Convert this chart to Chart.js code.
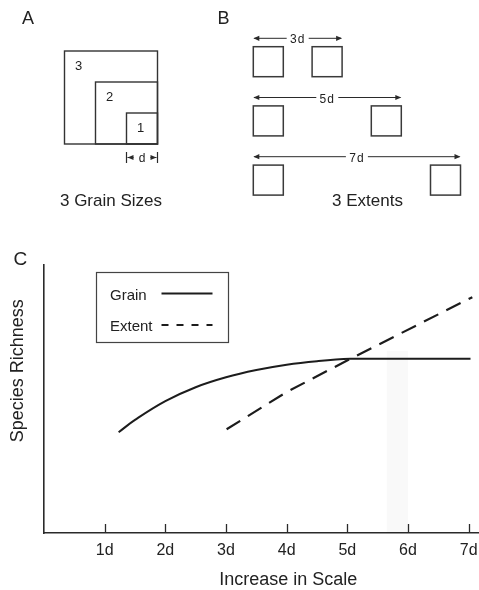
<!DOCTYPE html>
<html><head><meta charset="utf-8">
<script src="https://cdn.jsdelivr.net/npm/chart.js@4"></script>
<style>
html,body{margin:0;padding:0;background:#fff;}
#fig{position:relative;width:479px;height:590px;overflow:hidden;font-family:"Liberation Sans",Arial,sans-serif;}
#wrap{position:absolute;left:0;top:230px;width:479px;height:360px;}
#overlay{position:absolute;left:0;top:0;width:479px;height:590px;pointer-events:none;}
</style></head>
<body>
<div id="fig">
<div id="wrap"><canvas id="c" width="479" height="360"></canvas></div>
<svg id="overlay" width="479" height="590" xmlns="http://www.w3.org/2000/svg"></svg>
</div>
<script>
// ---- data (panel C) ----
const seriesNames = ['Grain', 'Extent'];
const grainX = [1.23, 1.5, 2, 2.5, 3, 3.5, 4, 4.5, 5.05, 5.5, 6, 6.5, 7.03];
const grainY = [37.6, 42.2, 49.2, 54.4, 58.1, 60.8, 62.8, 64.1, 65.0, 65.0, 65.0, 65.0, 65.0];
const extentX = [3.01, 4.0, 5.05, 7.06];
const extentY = [38.7, 52.6, 65.0, 88.0];
const xTickValues = [1, 2, 3, 4, 5, 6, 7];
const xTickLabels = ['1d', '2d', '3d', '4d', '5d', '6d', '7d'];
const xTitle = 'Increase in Scale';
const yTitle = 'Species Richness';
const bandX = [5.65, 6.0];
const bandTop = 68;
// ---- schematic panels A and B ----
const grainSizes = [1, 2, 3];
const grainLabels = ['1', '2', '3'];
const extents = [3, 5, 7];
const extentLabels = ['3d', '5d', '7d'];
const panelLabels = ['A', 'B', 'C'];
const captions = ['3 Grain Sizes', '3 Extents'];

const FONT = 'Liberation Sans, Arial, sans-serif';
const INK = '#1c1c1c';

const tickMarks = {
  id: 'tickMarks',
  beforeDatasetsDraw(chart) {
    const xs = chart.scales.x, ys = chart.scales.y, ctx = chart.ctx;
    ctx.save();
    ctx.fillStyle = 'rgba(0,0,0,0.025)';
    const x0 = xs.getPixelForValue(bandX[0]), x1 = xs.getPixelForValue(bandX[1]);
    const yt = ys.getPixelForValue(bandTop), yb = ys.getPixelForValue(0);
    ctx.fillRect(x0, yt, x1 - x0, yb - yt);
    ctx.restore();
  },
  afterDraw(chart) {
    const xs = chart.scales.x, ctx = chart.ctx;
    const b = chart.chartArea.bottom;
    ctx.save();
    ctx.strokeStyle = '#2a2a2a';
    ctx.lineWidth = 1.3;
    xs.ticks.forEach(t => {
      const px = Math.round(xs.getPixelForValue(t.value)) + 0.5;
      ctx.beginPath(); ctx.moveTo(px, b); ctx.lineTo(px, b - 9); ctx.stroke();
    });
    ctx.restore();
  }
};

const chart = new Chart(document.getElementById('c'), {
  type: 'line',
  data: {
    datasets: [
      { label: seriesNames[0], data: grainX.map((x, i) => ({ x, y: grainY[i] })),
        borderColor: INK, borderWidth: 2, pointRadius: 0, fill: false,
        tension: 0.4 },
      { label: seriesNames[1], data: extentX.map((x, i) => ({ x, y: extentY[i] })),
        borderColor: INK, borderWidth: 2.2, borderDash: [16, 9], pointRadius: 0, fill: false,
        tension: 0 }
    ]
  },
  options: {
    responsive: false, animation: false, devicePixelRatio: 1,
    layout: { padding: { top: 35, left: 0, right: 0, bottom: 0 } },
    plugins: { legend: { display: false }, tooltip: { enabled: false } },
    scales: {
      x: {
        type: 'linear', min: 0, max: 7.17,
        afterBuildTicks: s => { s.ticks = xTickValues.map(v => ({ value: v })); },
        afterFit: s => { s.height = 57; s.paddingLeft = 0; s.paddingRight = 0; },
        grid: { display: false, drawTicks: false },
        border: { display: true, color: '#2a2a2a', width: 1.6 },
        ticks: { padding: 8, color: '#222', maxRotation: 0, autoSkip: false,
          font: { family: FONT, size: 16 },
          callback: v => { const i = xTickValues.indexOf(v); return i >= 0 ? xTickLabels[i] : ''; } }
      },
      y: {
        min: 0, max: 100,
        afterFit: s => { s.width = 44; s.paddingTop = 0; s.paddingBottom = 0; },
        grid: { display: false, drawTicks: false },
        border: { display: true, color: '#2a2a2a', width: 1.6 },
        ticks: { display: false }
      }
    }
  },
  plugins: [tickMarks]
});

// ---- SVG overlay: panels A, B, legend and titles ----
const NS = 'http://www.w3.org/2000/svg';
const svg = document.getElementById('overlay');
function el(tag, attrs, text) {
  const e = document.createElementNS(NS, tag);
  for (const k in attrs) e.setAttribute(k, attrs[k]);
  if (text != null) e.textContent = text;
  svg.appendChild(e);
  return e;
}
function txt(x, y, s, size, anchor, extra) {
  return el('text', Object.assign({ x, y, 'font-size': size, 'font-family': FONT, fill: '#222',
    'text-anchor': anchor || 'start' }, extra || {}), s);
}
function line(x1, y1, x2, y2, w, extra) {
  return el('line', Object.assign({ x1, y1, x2, y2, stroke: '#2a2a2a', 'stroke-width': w }, extra || {}));
}
function head(x, y, dir) { // dir -1 left, +1 right
  const L = 6, H = 2.6;
  el('polygon', { points: `${x},${y} ${x - dir * L},${y - H} ${x - dir * L},${y + H}`, fill: '#2a2a2a' });
}

// panel letters
txt(22, 24, panelLabels[0], 18);
txt(217.5, 24, panelLabels[1], 18);
txt(13.5, 265, panelLabels[2], 19);

// Panel A: nested grains
const aRight = 157.5, aBottom = 144, aUnit = 31;
grainSizes.slice().reverse().forEach(k => {
  const s = k * aUnit;
  el('rect', { x: aRight - s, y: aBottom - s, width: s, height: s, fill: 'none', stroke: '#333', 'stroke-width': 1.4 });
});
grainSizes.forEach((k, i) => {
  const s = k * aUnit;
  txt(aRight - s + 14, aBottom - s + 19, grainLabels[i], 13, 'middle');
});
// d marker
const dl = aRight - aUnit, dr = aRight, dy = 157.5;
line(dl, 152, dl, 163, 1.2);
line(dr, 152, dr, 163, 1.2);
line(dl + 1, dy, dl + 7, dy, 1);
head(dl + 1, dy, -1);
line(dr - 7, dy, dr - 1, dy, 1);
head(dr - 1, dy, 1);
txt((dl + dr) / 2, 161.5, 'd', 12, 'middle');
txt(111, 206, captions[0], 17, 'middle');

// Panel B: extents
const bLeft = 253.3, bUnit = 29.6, bSide = 30, bTop0 = 46.7, bRow = 59.2;
extents.forEach((k, i) => {
  const top = bTop0 + i * bRow;
  const right = bLeft + k * bUnit;
  el('rect', { x: bLeft, y: top, width: bSide, height: bSide, fill: 'none', stroke: '#3a3a3a', 'stroke-width': 1.5 });
  el('rect', { x: right - bSide, y: top, width: bSide, height: bSide, fill: 'none', stroke: '#3a3a3a', 'stroke-width': 1.5 });
  const ay = top - 8.4, cx = (bLeft + right) / 2, gap = 11;
  line(bLeft + 1, ay, cx - gap, ay, 1);
  line(cx + gap, ay, right - 1, ay, 1);
  head(bLeft, ay, -1);
  head(right, ay, 1);
  txt(cx, ay + 5, extentLabels[i], 12, 'middle', { 'letter-spacing': 1 });
});
txt(367.5, 205.5, captions[1], 17, 'middle');

// Legend box (panel C), built from the chart datasets
el('rect', { x: 96.5, y: 272.5, width: 132, height: 70, fill: '#fff', stroke: '#444', 'stroke-width': 1.2 });
const legendRows = [{ ty: 299.5, ly: 293.5 }, { ty: 330.5, ly: 325 }];
chart.data.datasets.forEach((ds, i) => {
  txt(110, legendRows[i].ty, ds.label, 15);
  const extra = ds.borderDash ? { 'stroke-dasharray': '7 8' } : {};
  line(161.5, legendRows[i].ly, 212.5, legendRows[i].ly, 1.9, Object.assign({ stroke: INK }, extra));
});

// Axis titles
txt(288.3, 585, xTitle, 18, 'middle');
txt(0, 0, yTitle, 18, 'middle', { transform: 'translate(23,370.8) rotate(-90)' });
</script>
</body></html>
